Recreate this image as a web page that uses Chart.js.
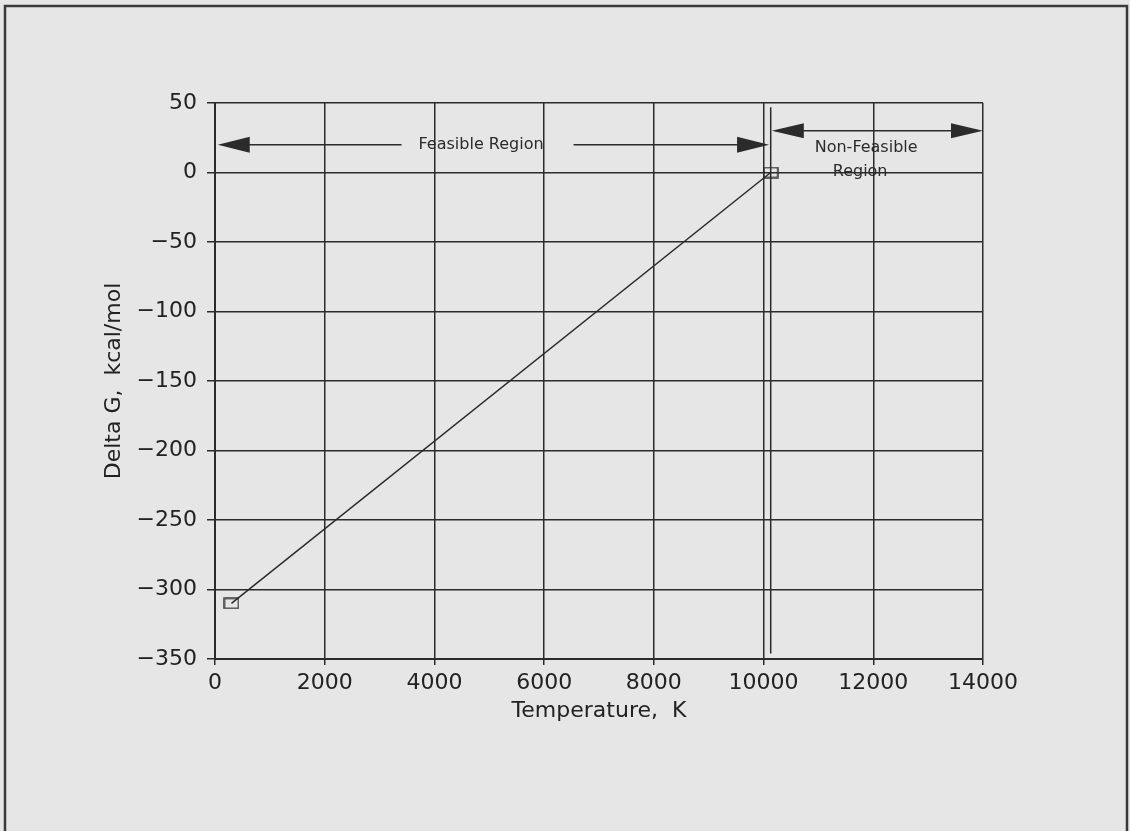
<!DOCTYPE html>
<html>
<head>
<meta charset="utf-8">
<title>Delta G vs Temperature</title>
<script src="https://cdn.jsdelivr.net/npm/chart.js@4.4.1/dist/chart.umd.min.js"></script>
<style>
  html, body { margin: 0; padding: 0; background: #e6e6e6; }
  canvas { display: block; }
</style>
</head>
<body>
<canvas id="myChart" width="1130" height="831"></canvas>
<script>
// Datos
const temperatureK = [300, 10130];
const deltaG = [-310, 0];

const xTicks = [0, 2000, 4000, 6000, 8000, 10000, 12000, 14000];
const yTicks = [50, 0, -50, -100, -150, -200, -250, -300, -350];

// Anotaciones (en unidades de los ejes)
const feasibleArrowK = [50, 10100];
const feasibleArrowY = 20;
const nonFeasibleArrowK = [10150, 14000];
const nonFeasibleArrowY = 30;
const boundaryK = 10130;
const boundaryG = [-346, 47];
const regionLabels = ['Feasible Region', 'Non-Feasible', 'Region'];
const regionLabelK = [4850, 11870, 11760];
const regionLabelG = [20, 18, 0.5];

const ink = '#2b2b2b';
const fontFamily = "'DejaVu Sans', sans-serif";

// marcador rectangular
const marker = document.createElement('canvas');
marker.width = 16;
marker.height = 12;
const mctx = marker.getContext('2d');
mctx.strokeStyle = ink;
mctx.lineWidth = 1.4;
mctx.strokeRect(1, 1, 14, 10);

function arrowHead(ctx, tipX, y, dir, len, half) {
    ctx.beginPath();
    ctx.moveTo(tipX, y);
    ctx.lineTo(tipX - dir * len, y - half);
    ctx.lineTo(tipX - dir * len, y + half);
    ctx.closePath();
    ctx.fill();
}

const framePlugin = {
    id: 'frame',
    beforeDraw(chart) {
        const ctx = chart.ctx;
        ctx.save();
        ctx.fillStyle = '#e6e6e6';
        ctx.fillRect(0, 0, chart.width, chart.height);
        ctx.strokeStyle = '#3a3a3a';
        ctx.lineWidth = 2.5;
        ctx.beginPath();
        ctx.moveTo(5, chart.height);
        ctx.lineTo(5, 6);
        ctx.lineTo(1127, 6);
        ctx.lineTo(1127, chart.height);
        ctx.stroke();
        ctx.restore();
    }
};

const regionPlugin = {
    id: 'regions',
    afterDatasetsDraw(chart) {
        const ctx = chart.ctx;
        const x = chart.scales.x;
        const y = chart.scales.y;
        ctx.save();
        ctx.strokeStyle = ink;
        ctx.fillStyle = ink;
        ctx.lineWidth = 1.5;

        // linea vertical del limite
        const bx = x.getPixelForValue(boundaryK);
        ctx.beginPath();
        ctx.moveTo(bx, y.getPixelForValue(boundaryG[0]));
        ctx.lineTo(bx, y.getPixelForValue(boundaryG[1]));
        ctx.stroke();

        // textos
        ctx.font = '16px ' + fontFamily;
        ctx.textAlign = 'center';
        ctx.textBaseline = 'middle';
        const widths = regionLabels.map(t => ctx.measureText(t).width);
        regionLabels.forEach((t, i) => {
            ctx.fillText(t, x.getPixelForValue(regionLabelK[i]), y.getPixelForValue(regionLabelG[i]));
        });

        // flecha region factible (cortada por el texto)
        const fy = y.getPixelForValue(feasibleArrowY);
        const fl = x.getPixelForValue(feasibleArrowK[0]);
        const fr = x.getPixelForValue(feasibleArrowK[1]);
        const tc = x.getPixelForValue(regionLabelK[0]);
        ctx.beginPath();
        ctx.moveTo(fl + 20, fy);
        ctx.lineTo(tc - widths[0] / 2 - 17, fy);
        ctx.moveTo(tc + widths[0] / 2 + 30, fy);
        ctx.lineTo(fr - 20, fy);
        ctx.stroke();
        arrowHead(ctx, fl, fy, -1, 32, 8);
        arrowHead(ctx, fr, fy, 1, 32, 8);

        // flecha region no factible
        const ny = y.getPixelForValue(nonFeasibleArrowY);
        const nl = x.getPixelForValue(nonFeasibleArrowK[0]);
        const nr = x.getPixelForValue(nonFeasibleArrowK[1]);
        ctx.beginPath();
        ctx.moveTo(nl + 20, ny);
        ctx.lineTo(nr - 20, ny);
        ctx.stroke();
        arrowHead(ctx, nl, ny, -1, 32, 7.5);
        arrowHead(ctx, nr, ny, 1, 32, 7.5);
        ctx.restore();
    }
};

const ctx = document.getElementById('myChart');

new Chart(ctx, {
    type: 'scatter',
    data: {
        datasets: [{
            label: 'Delta G',
            data: temperatureK.map((t, i) => ({x: t, y: deltaG[i]})),
            showLine: true,
            borderColor: ink,
            borderWidth: 1.5,
            pointStyle: marker,
            pointRadius: 6
        }]
    },
    options: {
        responsive: false,
        animation: false,
        devicePixelRatio: 1,
        layout: {
            padding: {left: 101, top: 103, right: 147, bottom: 107}
        },
        plugins: {
            legend: {display: false},
            tooltip: {enabled: false}
        },
        scales: {
            x: {
                type: 'linear',
                min: xTicks[0],
                max: xTicks[xTicks.length - 1],
                afterBuildTicks: s => { s.ticks = xTicks.map(v => ({value: v})); },
                afterFit: s => { s.height = 65; },
                ticks: {
                    color: '#222',
                    padding: 5,
                    font: {family: fontFamily, size: 22},
                    callback: v => String(v)
                },
                grid: {color: ink, lineWidth: 1.5, tickLength: 6, tickColor: ink},
                border: {color: ink, width: 2},
                title: {
                    display: true,
                    text: 'Temperature,  K',
                    color: '#222',
                    padding: 0,
                    font: {family: fontFamily, size: 22}
                }
            },
            y: {
                type: 'linear',
                min: yTicks[yTicks.length - 1],
                max: yTicks[0],
                afterBuildTicks: s => { s.ticks = yTicks.map(v => ({value: v})); },
                afterFit: s => { s.width = 114; },
                ticks: {
                    color: '#222',
                    padding: 10,
                    font: {family: fontFamily, size: 22},
                    callback: v => String(v).replace('-', '\u2212')
                },
                grid: {color: ink, lineWidth: 1.5, tickLength: 8, tickColor: ink},
                border: {color: ink, width: 2},
                title: {
                    display: true,
                    text: 'Delta G,  kcal/mol',
                    color: '#222',
                    padding: 0,
                    font: {family: fontFamily, size: 22}
                }
            }
        }
    },
    plugins: [framePlugin, regionPlugin]
});
</script>
</body>
</html>
